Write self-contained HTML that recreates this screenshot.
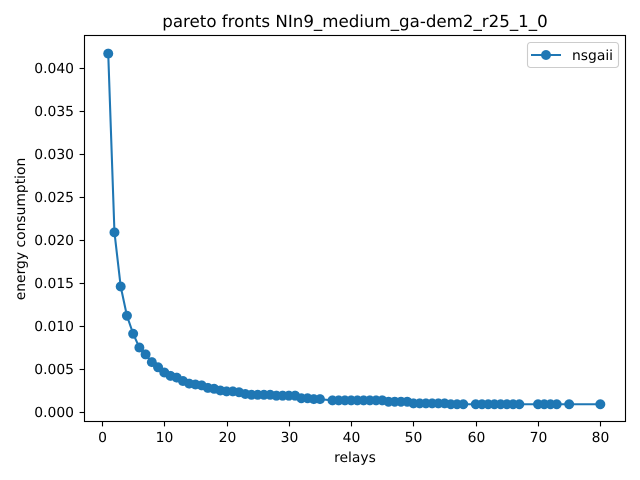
<!DOCTYPE html>
<html>
<head>
<meta charset="utf-8">
<title>pareto fronts</title>
<style>
html,body{margin:0;padding:0;background:#fff;}
svg{display:block;}
text{font-family:"DejaVu Sans","Liberation Sans",sans-serif;fill:#000;text-rendering:geometricPrecision;}
</style>
</head>
<body>
<svg id="chart" width="640" height="480" viewBox="0 0 640 480" xmlns="http://www.w3.org/2000/svg">
  <rect x="0" y="0" width="640" height="480" fill="#fff"/>
  <text x="355" y="27" font-size="16.67" text-anchor="middle">pareto fronts NIn9_medium_ga-dem2_r25_1_0</text>
  <g id="series"></g>
  <g id="xticks"></g>
  <g id="yticks"></g>
  <rect x="84.5" y="35.5" width="541" height="386" fill="none" stroke="#000" stroke-width="1.11"/>
  <text x="355" y="462" font-size="13.89" text-anchor="middle">relays</text>
  <text x="0" y="0" font-size="13.89" text-anchor="middle" transform="translate(25,229) rotate(-90)">energy consumption</text>
  <g>
    <rect x="527.5" y="42.5" width="91" height="25" rx="3" ry="3" fill="#fff" fill-opacity="0.8" stroke="#ccc" stroke-width="1.11"/>
    <line x1="531" y1="55" x2="561" y2="55" stroke="#1f77b4" stroke-width="2.08"/>
    <circle cx="546" cy="55" r="5" fill="#1f77b4"/>
    <text x="572" y="60" font-size="13.89">nsgaii</text>
  </g>
</svg>
<script>
const relays = [1,2,3,4,5,6,7,8,9,10,11,12,13,14,15,16,17,18,19,20,21,22,23,24,25,26,27,28,29,30,31,32,33,34,35,37,38,39,40,41,42,43,44,45,46,47,48,49,50,51,52,53,54,55,56,57,58,60,61,62,63,64,65,66,67,70,71,72,73,75,80];
const energy = [0.0417,0.0209,0.0146,0.0112,0.0091,0.0075,0.0067,0.0058,0.0052,0.0046,0.0042,0.0040,0.0036,0.0033,0.0032,0.0031,0.0028,0.0027,0.0025,0.0024,0.0024,0.0023,0.0021,0.0020,0.0020,0.0020,0.0020,0.0019,0.0019,0.0019,0.0019,0.0016,0.0016,0.0015,0.0015,0.00135,0.00135,0.00135,0.00135,0.00135,0.00135,0.00135,0.00135,0.00135,0.0012,0.0012,0.0012,0.0012,0.0010,0.0010,0.0010,0.0010,0.0010,0.0010,0.0009,0.0009,0.0009,0.0009,0.0009,0.0009,0.0009,0.0009,0.0009,0.0009,0.0009,0.0009,0.0009,0.0009,0.0009,0.0009,0.0009];
const xTickLabels = ["0","10","20","30","40","50","60","70","80"];
const yTickLabels = ["0.000","0.005","0.010","0.015","0.020","0.025","0.030","0.035","0.040"];

const NS = "http://www.w3.org/2000/svg";
const COLOR = "#1f77b4";
function xScale(v){ return 102 + 6.229 * v; }
function yScale(v){ return 412 - 8595 * v; }

const seriesGroup = document.getElementById("series");
const xTickGroup = document.getElementById("xticks");
const yTickGroup = document.getElementById("yticks");

const line = document.createElementNS(NS, "polyline");


line.setAttribute("points", relays.map(function(r, i){ return xScale(r).toFixed(2) + "," + yScale(energy[i]).toFixed(2); }).join(" "));
line.setAttribute("fill", "none");
line.setAttribute("stroke", COLOR);
line.setAttribute("stroke-width", "2.08");
seriesGroup.appendChild(line);

relays.forEach(function(r, i){
  const dot = document.createElementNS(NS, "circle");
  
  
  dot.setAttribute("cx", xScale(r).toFixed(2));
  dot.setAttribute("cy", yScale(energy[i]).toFixed(2));
  dot.setAttribute("r", "5");
  dot.setAttribute("fill", COLOR);
  seriesGroup.appendChild(dot);
});

xTickLabels.forEach(function(label){
  const px = Math.round(xScale(Number(label))) + 0.5;
  const mark = document.createElementNS(NS, "line");
  
  
  mark.setAttribute("x1", px);
  mark.setAttribute("x2", px);
  mark.setAttribute("y1", "421.5");
  mark.setAttribute("y2", "426.4");
  mark.setAttribute("stroke", "#000");
  mark.setAttribute("stroke-width", "1.11");
  xTickGroup.appendChild(mark);
  const text = document.createElementNS(NS, "text");
  
  
  text.setAttribute("x", px);
  text.setAttribute("y", "442");
  text.setAttribute("font-size", "13.89");
  text.setAttribute("text-anchor", "middle");
  text.textContent = label;
  xTickGroup.appendChild(text);
});

yTickLabels.forEach(function(label){
  const py = Math.round(yScale(Number(label))) + 0.5;
  const mark = document.createElementNS(NS, "line");
  
  
  mark.setAttribute("x1", "79.6");
  mark.setAttribute("x2", "84.5");
  mark.setAttribute("y1", py);
  mark.setAttribute("y2", py);
  mark.setAttribute("stroke", "#000");
  mark.setAttribute("stroke-width", "1.11");
  yTickGroup.appendChild(mark);
  const text = document.createElementNS(NS, "text");
  
  
  text.setAttribute("x", "74");
  text.setAttribute("y", Math.round(yScale(Number(label)) + 5.3));
  text.setAttribute("font-size", "13.89");
  text.setAttribute("text-anchor", "end");
  text.textContent = label;
  yTickGroup.appendChild(text);
});
</script>
</body>
</html>
